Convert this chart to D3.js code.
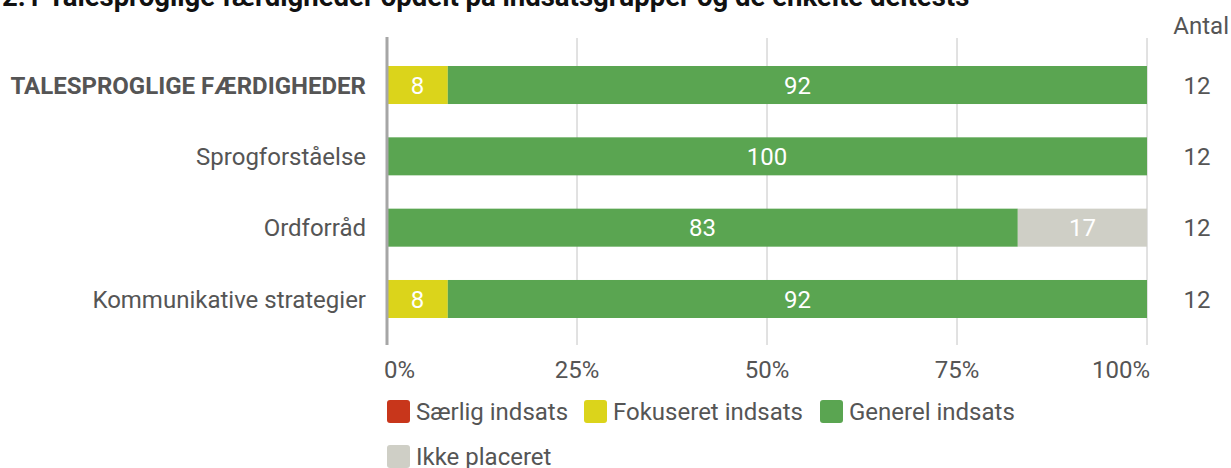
<!DOCTYPE html>
<html>
<head>
<meta charset="utf-8">
<script src="https://cdn.jsdelivr.net/npm/d3@7"></script>
<style>
  body { margin: 0; background: #fff; }
  svg { display: block; font-family: Roboto, "Noto Sans", sans-serif; }
</style>
</head>
<body>
<svg id="chart"></svg>
<script>
// data
var categories = ["TALESPROGLIGE FÆRDIGHEDER", "Sprogforståelse", "Ordforråd", "Kommunikative strategier"];
var seriesNames = ["Særlig indsats", "Fokuseret indsats", "Generel indsats", "Ikke placeret"];
var saerlig = [0, 0, 0, 0];
var fokuseret = [8, 0, 0, 8];
var generel = [92, 100, 83, 92];
var ikkePlaceret = [0, 0, 17, 0];
var antal = [12, 12, 12, 12];
var tickValues = [0, 25, 50, 75, 100];
var colors = ["#c8361b", "#dbd41b", "#5aa551", "#cfcfc6"];

var width = 1231;
var height = 468;
var margin = { top: 38, left: 387, right: 84, bottom: 123 };

var svg = d3.select("#chart")
	.attr("width", width)
	.attr("height", height);

// table for the stack
var rows = categories.map(function(c, i) {
	return { cat: c, "Særlig indsats": saerlig[i], "Fokuseret indsats": fokuseret[i],
		"Generel indsats": generel[i], "Ikke placeret": ikkePlaceret[i], antal: antal[i] };
});
var stacked = d3.stack().keys(seriesNames)(rows);

var xScale = d3.scaleLinear().domain([0, 100]).range([margin.left, width - margin.right]);
var yScale = d3.scaleBand().domain(categories)
	.range([66, 318])
	.paddingInner(0.467).paddingOuter(0);
var color = d3.scaleOrdinal().domain(seriesNames).range(colors);

// title (cut off at the top like the original)
svg.append("text")
	.attr("x", 2)
	.attr("y", 6)
	.style("font-size", "27.5px")
	.style("font-weight", "700")
	.style("fill", "#111")
	.text("2.1 Talesproglige færdigheder opdelt på indsatsgrupper og de enkelte deltests");

// gridlines
svg.append("g")
	.selectAll("line")
	.data(tickValues.slice(1))
	.join("line")
	.attr("x1", function(d) { return xScale(d); })
	.attr("x2", function(d) { return xScale(d); })
	.attr("y1", margin.top)
	.attr("y2", height - margin.bottom)
	.style("stroke", "#c4c4c4")
	.style("stroke-width", 1);

// bars
var layer = svg.append("g")
	.selectAll("g")
	.data(stacked)
	.join("g")
	.attr("fill", function(d) { return color(d.key); });

layer.selectAll("rect")
	.data(function(d) { return d; })
	.join("rect")
	.attr("x", function(d) { return xScale(d[0]); })
	.attr("width", function(d) { return xScale(d[1]) - xScale(d[0]); })
	.attr("y", function(d) { return yScale(d.data.cat); })
	.attr("height", yScale.bandwidth());

// value labels
layer.selectAll("text")
	.data(function(d) { return d.filter(function(p) { return p[1] - p[0] > 0; }); })
	.join("text")
	.attr("x", function(d) { return (xScale(d[0]) + xScale(d[1])) / 2; })
	.attr("y", function(d) { return yScale(d.data.cat) + yScale.bandwidth() / 2; })
	.attr("dy", "0.36em")
	.attr("text-anchor", "middle")
	.style("fill", "#fff")
	.style("font-size", "24px")
	.text(function(d) { return d[1] - d[0]; });

// y axis line
svg.append("line")
	.attr("x1", xScale(0))
	.attr("x2", xScale(0))
	.attr("y1", margin.top - 1)
	.attr("y2", height - margin.bottom)
	.style("stroke", "#a6a6a6")
	.style("stroke-width", 3);

// category labels
svg.append("g")
	.selectAll("text")
	.data(categories)
	.join("text")
	.attr("x", xScale(0) - 21)
	.attr("y", function(d) { return yScale(d) + yScale.bandwidth() / 2; })
	.attr("dy", "0.36em")
	.attr("text-anchor", "end")
	.style("font-size", "24px")
	.style("font-weight", function(d, i) { return i == 0 ? "700" : "400"; })
	.style("fill", "#555")
	.text(function(d) { return d; });

// x tick labels
svg.append("g")
	.selectAll("text")
	.data(tickValues)
	.join("text")
	.attr("x", function(d) { return xScale(d) + (d == 0 ? -3 : d == 100 ? 3 : 0); })
	.attr("y", 378)
	.attr("text-anchor", function(d) { return d == 0 ? "start" : d == 100 ? "end" : "middle"; })
	.style("font-size", "24px")
	.style("fill", "#555")
	.text(function(d) { return d + "%"; });

// antal column
svg.append("text")
	.attr("x", 1229)
	.attr("y", 34)
	.attr("text-anchor", "end")
	.style("font-size", "24px")
	.style("fill", "#555")
	.text("Antal");

svg.append("g")
	.selectAll("text")
	.data(rows)
	.join("text")
	.attr("x", 1197)
	.attr("y", function(d) { return yScale(d.cat) + yScale.bandwidth() / 2; })
	.attr("dy", "0.36em")
	.attr("text-anchor", "middle")
	.style("font-size", "24px")
	.style("fill", "#555")
	.text(function(d) { return d.antal; });

// legend
var legendPos = [[387, 400], [584, 400], [820, 400], [387, 445]];
var legend = svg.append("g")
	.selectAll("g")
	.data(seriesNames)
	.join("g")
	.attr("transform", function(d, i) { return "translate(" + legendPos[i][0] + "," + legendPos[i][1] + ")"; });

legend.append("rect")
	.attr("width", 23)
	.attr("height", 23)
	.attr("rx", 3)
	.attr("fill", function(d) { return color(d); });

legend.append("text")
	.attr("x", 29)
	.attr("y", 11.5)
	.attr("dy", "0.36em")
	.style("font-size", "24px")
	.style("fill", "#555")
	.text(function(d) { return d; });
</script>
</body>
</html>
